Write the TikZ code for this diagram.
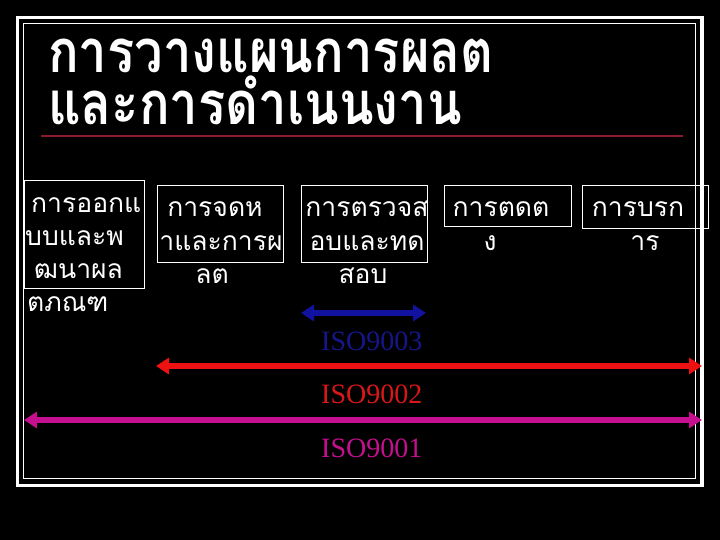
\documentclass[tikz,border=0pt]{standalone}
\usepackage{fontspec}
\setmainfont{Liberation Serif}
\newfontfamily\thaifont[Script=Thai]{Loma}
\usetikzlibrary{arrows.meta}
\definecolor{isoblue}{HTML}{1212A0}
\definecolor{isoblueText}{HTML}{16168A}
\definecolor{isored}{HTML}{EE1111}
\definecolor{isoredText}{HTML}{D81818}
\definecolor{isomag}{HTML}{C4108E}
\definecolor{rule}{HTML}{8C1A2E}
\tikzset{
  x=1pt, y=-1pt,
  titletext/.style={text=white, inner sep=0pt, font=\thaifont\bfseries\fontsize{58}{58}\selectfont},
  bodytext/.style={text=white, inner sep=0pt, font=\thaifont\fontsize{26.5}{26.5}\selectfont},
  box/.style={draw=white, line width=1pt},
  isolabel/.style={inner sep=0pt, font=\fontsize{28}{28}\selectfont},
  span/.style={line width=5.5pt, {Triangle[length=13pt,width=16pt]}-{Triangle[length=13pt,width=16pt]}}
}
\begin{document}
\begin{tikzpicture}
\fill[black] (0,0) rectangle (720,540);
\useasboundingbox (0,0) rectangle (720,540);
% frame
\draw[white, line width=3.5pt] (17.5,17.5) rectangle (702,485.5);
\draw[white, line width=1.2pt] (23.5,23.5) rectangle (695.5,478.5);
% title
\node[titletext, anchor=base west] (title1) at (48,73) {\scalebox{0.875}[1.03]{การวางแผนการผลต}};
\node[titletext, anchor=base west] (title2) at (48,125) {\scalebox{0.875}[1.03]{และการดำเนนงาน}};
\draw[rule, line width=1.3pt] (41,136) -- (683,136);
% boxes
\draw[box] (24,181) rectangle (144,288);
\draw[box] (157,186) rectangle (283,262);
\draw[box] (301,186) rectangle (427,262);
\draw[box] (444,186) rectangle (571,227);
\draw[box] (582,186) rectangle (708,229);
% box texts
\node[bodytext, anchor=base west] (a1) at (31,213) {การออกแ};
\node[bodytext, anchor=base west] (a2) at (25,245) {บบและพ};
\node[bodytext, anchor=base west] (a3) at (34,278) {ฒนาผล};
\node[bodytext, anchor=base west] (a4) at (27,311) {ตภณฑ};
\node[bodytext, anchor=base] (b1) at (215,217) {การจดห};
\node[bodytext, anchor=base] (b2) at (221,250) {าและการผ};
\node[bodytext, anchor=base] (b3) at (212,283) {ลต};
\node[bodytext, anchor=base] (c1) at (367,217) {การตรวจส};
\node[bodytext, anchor=base] (c2) at (367,250) {อบและทด};
\node[bodytext, anchor=base] (c3) at (363,283) {สอบ};
\node[bodytext, anchor=base] (d1) at (501,217) {การตดต};
\node[bodytext, anchor=base] (d2) at (490,250) {ง};
\node[bodytext, anchor=base] (e1) at (638,217) {การบรก};
\node[bodytext, anchor=base] (e2) at (645,250) {าร};
% arrows
\coordinate (p3l) at (301,313); \coordinate (p3r) at (426,313);
\coordinate (p2l) at (156,366); \coordinate (p2r) at (702,366);
\coordinate (p1l) at (24,420);  \coordinate (p1r) at (702,420);
\draw[span, isoblue] (p3l) -- (p3r);
\draw[span, isored] (p2l) -- (p2r);
\draw[span, isomag] (p1l) -- (p1r);
% labels
\node[isolabel, text=isoblueText, anchor=base west] (iso3) at (321,350) {ISO9003};
\node[isolabel, text=isoredText, anchor=base west] (iso2) at (321,403) {ISO9002};
\node[isolabel, text=isomag, anchor=base west] (iso1) at (321,457) {ISO9001};
\end{tikzpicture}
\end{document}
